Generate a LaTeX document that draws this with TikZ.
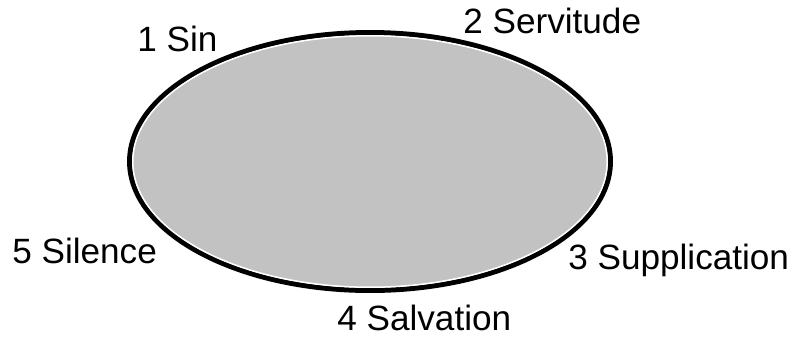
\documentclass[tikz,border=0pt]{standalone}
\usepackage{fontspec}
\setmainfont{Liberation Sans}
\usetikzlibrary{shapes.geometric}
\definecolor{shade}{gray}{0.76}
\tikzset{
    stage/.style={anchor=base west,inner sep=0pt,font=\fontsize{20}{24}\selectfont},
}
\begin{document}
\begin{tikzpicture}[x=0.02cm,y=-0.02cm]
        \useasboundingbox (0,0) rectangle (794,336);
        \node[draw=black,fill=shade,ellipse,line width=0.1cm,inner sep=0pt,minimum width=9.62cm,minimum height=5.16cm] (cycle) at (370,161.5) {};
        \node[draw=white,ellipse,line width=0.03cm,inner sep=0pt,minimum width=9.49cm,minimum height=5.03cm] (rim) at (cycle.center) {};

        \node[stage] (sin) at (137,51) {1 Sin};
        \node[stage] (servitude) at (463,33) {2 Servitude};
        \node[stage] (supplication) at (568,269) {3 Supplication};
        \node[stage] (salvation) at (337,330) {4 Salvation};
        \node[stage] (silence) at (12,263) {5 Silence};
    \end{tikzpicture}
\end{document}
